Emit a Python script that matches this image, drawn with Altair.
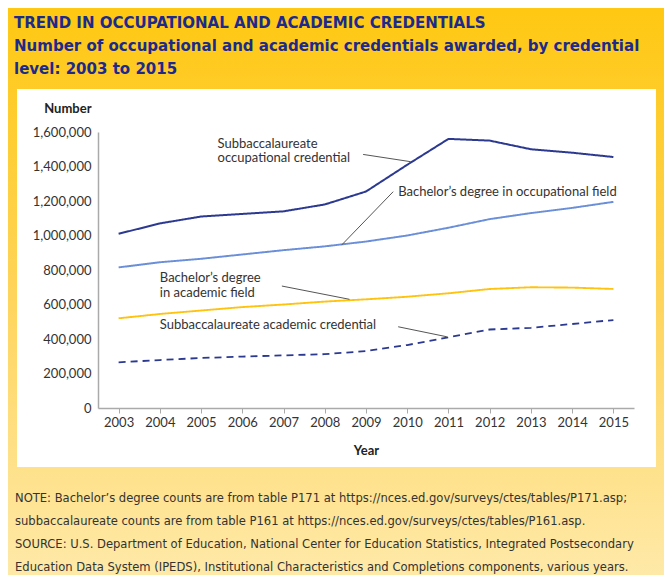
import altair as alt
import pandas as pd

years = list(range(2003, 2016))
subbacc_occ = [1010000, 1070000, 1110000, 1125000, 1140000, 1180000, 1255000,
               1410000, 1560000, 1550000, 1500000, 1480000, 1455000]
bach_occ = [815000, 845000, 865000, 890000, 915000, 937000, 965000,
            1000000, 1045000, 1095000, 1130000, 1160000, 1195000]
bach_acad = [520000, 545000, 565000, 585000, 600000, 617000, 630000,
             645000, 665000, 690000, 700000, 698000, 690000]
subbacc_acad = [265000, 278000, 290000, 298000, 305000, 312000, 330000,
                365000, 410000, 455000, 465000, 487000, 510000]

series_names = ["Subbaccalaureate occupational credential",
                "Bachelor’s degree in occupational field",
                "Bachelor’s degree in academic field",
                "Subbaccalaureate academic credential"]
series_colors = ["#2B3990", "#6A8FD8", "#FFC20E", "#2B3990"]
series_dash = [[1, 0], [1, 0], [1, 0], [7, 5]]
series_width = [2, 1.8, 2, 2.5]

ann_text = ["Subbaccalaureate", "occupational credential",
            "Bachelor’s degree in occupational field",
            "Bachelor’s degree", "in academic field",
            "Subbaccalaureate academic credential"]
ann_x = [2005.4, 2005.4, 2009.78, 2004.0, 2004.0, 2004.0]
ann_y = [1510000, 1425000, 1230000, 732000, 643000, 456000]

lead_x = [2008.93, 2009.66, 2006.96, 2009.78]
lead_y = [1470000, 1254000, 707000, 471000]
lead_x2 = [2010.08, 2008.41, 2008.6, 2010.96]
lead_y2 = [1428000, 945000, 630000, 413000]

y_ticks = [0, 200000, 400000, 600000, 800000, 1000000, 1200000, 1400000, 1600000]

title_lines = ["TREND IN OCCUPATIONAL AND ACADEMIC CREDENTIALS",
               "Number of occupational and academic credentials awarded, by credential",
               "level: 2003 to 2015"]
footer_lines = [
    "NOTE: Bachelor’s degree counts are from table P171 at https://nces.ed.gov/surveys/ctes/tables/P171.asp;",
    "subbaccalaureate counts are from table P161 at https://nces.ed.gov/surveys/ctes/tables/P161.asp.",
    "SOURCE: U.S. Department of Education, National Center for Education Statistics, Integrated Postsecondary",
    "Education Data System (IPEDS), Institutional Characteristics and Completions components, various years.",
]

rows = []
for name, vals in zip(series_names, [subbacc_occ, bach_occ, bach_acad, subbacc_acad]):
    for yr, v in zip(years, vals):
        rows.append({"series": name, "year": yr, "value": v})
df = pd.DataFrame(rows)
ann_df = pd.DataFrame({"text": ann_text, "x": ann_x, "y": ann_y})
lead_df = pd.DataFrame({"x": lead_x, "y": lead_y, "x2": lead_x2, "y2": lead_y2})
title_df = pd.DataFrame({"text": ["\n".join(title_lines)]})
footer_df = pd.DataFrame({"text": ["\n".join(footer_lines)]})
one = pd.DataFrame({"a": [0]})

COND = "DejaVu Sans Condensed, Roboto, sans-serif"

xscale = alt.Scale(domain=[2002.5, 2015.5], nice=False, zero=False)
yscale = alt.Scale(domain=[0, 1600000], nice=False)

xaxis = alt.Axis(values=years, format="d", title="Year", grid=False,
                 labelFont="Lato", labelFontSize=13, labelColor="#333333",
                 tickColor="#aaaaaa", tickSize=5, domainColor="#aaaaaa", domainWidth=1.5,
                 labelPadding=3, labelOverlap=False,
                 titleFont="Lato", titleFontSize=13, titleFontWeight="bold",
                 titleColor="#222222", titlePadding=15, zindex=1)
yaxis = alt.Axis(values=y_ticks, format=",d", title="Number",
                 grid=False, ticks=False, tickSize=0, labelPadding=7, labelOverlap=False,
                 labelFont="Lato", labelFontSize=13, labelColor="#333333",
                 domainColor="#aaaaaa", domainWidth=1.5,
                 titleFont="Lato", titleFontSize=13, titleFontWeight="bold", titleColor="#222222",
                 titleAngle=0, titleAlign="right", titleBaseline="alphabetic",
                 titleX=-7, titleY=-20, zindex=1)

grad = alt.Gradient(gradient="linear", x1=0, x2=0, y1=0, y2=1,
                    stops=[alt.GradientStop(color="#FFC812", offset=0),
                           alt.GradientStop(color="#FED45A", offset=0.5),
                           alt.GradientStop(color="#FEE9A8", offset=1)])

bg = alt.Chart(one).mark_rect(color=grad).encode(
    x=alt.value(-90), x2=alt.value(566), y=alt.value(-124), y2=alt.value(443))
panel = alt.Chart(one).mark_rect(color="white").encode(
    x=alt.value(-81), x2=alt.value(558), y=alt.value(-43), y2=alt.value(335))

lines = alt.Chart(df).mark_line().encode(
    x=alt.X("year:Q", scale=xscale, axis=xaxis),
    y=alt.Y("value:Q", scale=yscale, axis=yaxis),
    color=alt.Color("series:N", scale=alt.Scale(domain=series_names, range=series_colors), legend=None),
    strokeDash=alt.StrokeDash("series:N", scale=alt.Scale(domain=series_names, range=series_dash), legend=None),
    strokeWidth=alt.StrokeWidth("series:N", scale=alt.Scale(domain=series_names, range=series_width), legend=None),
    detail="series:N",
)

leaders = alt.Chart(lead_df).mark_rule(color="#555555", strokeWidth=1).encode(
    x=alt.X("x:Q", axis=xaxis), y=alt.Y("y:Q", axis=yaxis), x2="x2:Q", y2="y2:Q")

ann = alt.Chart(ann_df).mark_text(align="left", baseline="alphabetic", font="Lato",
                                  fontSize=13, color="#333333").encode(
    x=alt.X("x:Q", axis=xaxis), y=alt.Y("y:Q", axis=yaxis), text="text:N")

titles = alt.Chart(title_df).mark_text(align="left", baseline="alphabetic",
                                       font=COND, fontSize=16.7, lineBreak="\n", lineHeight=23,
                                       fontWeight="bold", color="#1B2A8C").encode(
    x=alt.value(-84), y=alt.value(-104), text="text:N")

footer = alt.Chart(footer_df).mark_text(align="left", baseline="alphabetic",
                                        font=COND, fontSize=12.85, lineBreak="\n", lineHeight=23,
                                        color="#333333").encode(
    x=alt.value(-83), y=alt.value(370), text="text:N")

chart = alt.layer(bg, panel, lines, leaders, ann, titles, footer).properties(
    width=536, height=276,
    autosize=alt.AutoSizeParams(type="none"),
    padding={"left": 90, "top": 124, "right": 30, "bottom": 167},
).configure_view(stroke=None).configure_axis(labelOverlap=False)

chart.save("out.html", embed_options={"renderer": "svg", "actions": False})
